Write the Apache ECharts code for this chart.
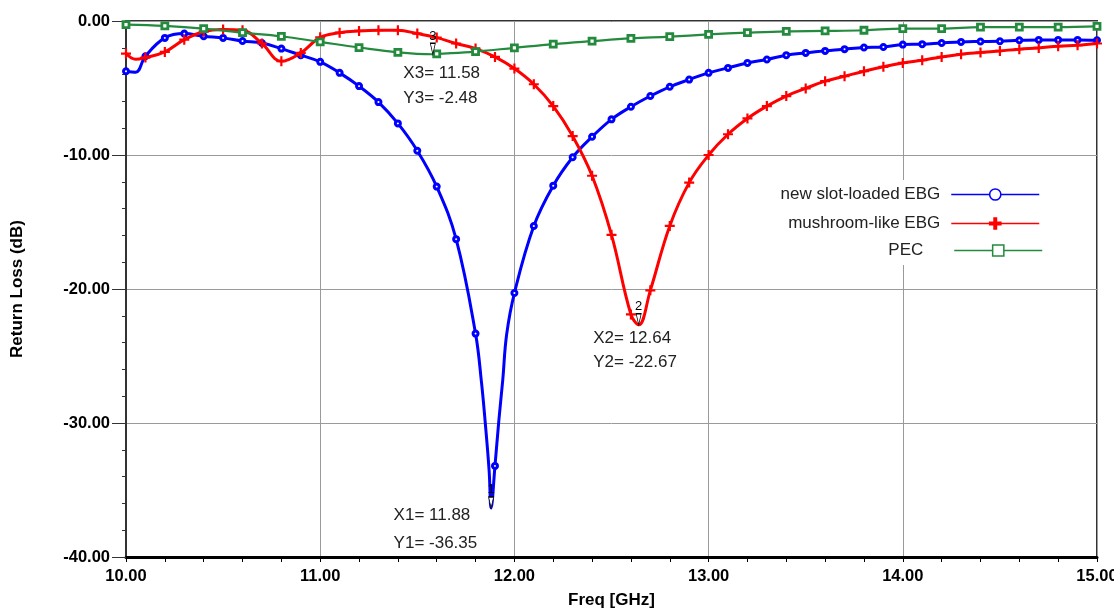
<!DOCTYPE html>
<html>
<head>
<meta charset="utf-8">
<script src="https://cdn.jsdelivr.net/npm/echarts@6/dist/echarts.min.js"></script>
<style>
  html, body { margin: 0; padding: 0; background: #fff; }
  #chart { width: 1114px; height: 610px; }
</style>
</head>
<body>
<div id="chart"></div>
<script>
// Return loss of the antenna over three ground planes, 10–15 GHz.
const seriesNames = ['new slot-loaded EBG', 'mushroom-like EBG', 'PEC'];

// Marked samples, every 0.1 GHz (slot-loaded EBG)
const slotFreq = [10.0, 10.1, 10.2, 10.3, 10.4, 10.5, 10.6, 10.7, 10.8, 10.9,
  11.0, 11.1, 11.2, 11.3, 11.4, 11.5, 11.6, 11.7, 11.8, 11.9,
  12.0, 12.1, 12.2, 12.3, 12.4, 12.5, 12.6, 12.7, 12.8, 12.9,
  13.0, 13.1, 13.2, 13.3, 13.4, 13.5, 13.6, 13.7, 13.8, 13.9,
  14.0, 14.1, 14.2, 14.3, 14.4, 14.5, 14.6, 14.7, 14.8, 14.9, 15.0];
const slotLoss = [-3.75, -2.63, -1.26, -0.94, -1.14, -1.26, -1.49, -1.64, -2.06, -2.55,
  -3.05, -3.87, -4.86, -6.05, -7.64, -9.68, -12.36, -16.28, -23.33, -33.2,
  -20.3, -15.3, -12.29, -10.17, -8.64, -7.34, -6.4, -5.6, -4.91, -4.37,
  -3.87, -3.5, -3.13, -2.87, -2.55, -2.38, -2.23, -2.1, -1.98, -1.94,
  -1.76, -1.73, -1.64, -1.56, -1.53, -1.51, -1.44, -1.41, -1.41, -1.41, -1.44];
// Unmarked samples (resonance detail)
const slotFineFreq = [10.05, 11.83, 11.85, 11.87, 11.88, 11.92, 11.94, 11.96];
const slotFineLoss = [-3.82, -26.9, -30.0, -33.6, -36.35, -29.8, -26.8, -23.4];

// Marked samples, every 0.1 GHz (mushroom-like EBG)
const mushFreq = slotFreq.slice();
const mushLoss = [-2.43, -2.73, -2.31, -1.39, -0.8, -0.64, -0.69, -1.68, -3.0, -2.38,
  -1.22, -0.87, -0.74, -0.69, -0.69, -0.94, -1.24, -1.68, -2.06, -2.68,
  -3.55, -4.72, -6.35, -8.59, -11.55, -15.96, -21.9, -20.1, -15.29, -12.06,
  -10.0, -8.45, -7.27, -6.35, -5.6, -5.03, -4.49, -4.12, -3.75, -3.42,
  -3.13, -2.93, -2.68, -2.48, -2.35, -2.23, -2.1, -2.01, -1.88, -1.81, -1.68];
const mushFineFreq = [10.05, 12.64];
const mushFineLoss = [-2.86, -22.67];

// Marked samples, every 0.2 GHz (PEC)
const pecFreq = [10.0, 10.2, 10.4, 10.6, 10.8, 11.0, 11.2, 11.4, 11.6, 11.8,
  12.0, 12.2, 12.4, 12.6, 12.8, 13.0, 13.2, 13.4, 13.6, 13.8,
  14.0, 14.2, 14.4, 14.6, 14.8, 15.0];
const pecLoss = [-0.27, -0.37, -0.57, -0.87, -1.14, -1.56, -1.98, -2.34, -2.46, -2.28,
  -2.0, -1.72, -1.5, -1.3, -1.17, -1.0, -0.87, -0.77, -0.74, -0.69,
  -0.57, -0.57, -0.45, -0.45, -0.45, -0.4];
const pecFineFreq = [11.58];
const pecFineLoss = [-2.48];

// Readout markers
const markerIds = ['1', '2', '3'];
const markerSeries = [0, 1, 2];
const markerFreq = [11.88, 12.64, 11.58];
const markerLoss = [-36.35, -22.67, -2.48];

// Axis ticks
const freqTicks = { min: 10, max: 15, step: 1 };
const lossTicks = { min: -40, max: 0, step: 10 };

const FONT = "'Liberation Sans', Arial, Helvetica, sans-serif";
const colors = ['#0000ff', '#ff0000', '#238a3e'];
const lineWidths = [3, 3, 2.2];
const plusPath = 'path://M3.9,0H6.1V3.9H10V6.1H6.1V10H3.9V6.1H0V3.9H3.9Z';
const symbols = ['circle', plusPath, 'rect'];
const symbolSizes = [5, 10, 6];
const symbolBorders = [3, 0, 2.8];

// readout text placement relative to the marker tip
const readoutOffset = [[-97, -6], [-45, 2], [-29, 7]];
const readoutLineHeight = [28, 24, 25];

// legend placement
const legendTop = [180, 209, 236];
const legendRight = [70, 70, 67];
const legendTextGap = [6, 6, 26];

function buildData(freq, loss, fineFreq, fineLoss) {
  const pts = freq.map((f, i) => ({ value: [f, loss[i]] }));
  fineFreq.forEach((f, i) => pts.push({ value: [f, fineLoss[i]], symbol: 'none' }));
  pts.sort((a, b) => a.value[0] - b.value[0]);
  return pts;
}

const dataSets = [
  buildData(slotFreq, slotLoss, slotFineFreq, slotFineLoss),
  buildData(mushFreq, mushLoss, mushFineFreq, mushFineLoss),
  buildData(pecFreq, pecLoss, pecFineFreq, pecFineLoss)
];

function markPointFor(seriesIdx) {
  const data = [];
  markerIds.forEach((id, k) => {
    if (markerSeries[k] !== seriesIdx) return;
    const coord = [markerFreq[k], markerLoss[k]];
    data.push({
      coord,
      symbol: 'path://M0,0L5,0L2.5,11Z',
      symbolSize: [5, 11],
      symbolOffset: [0, '-50%'],
      itemStyle: { color: '#fff', borderColor: '#000', borderWidth: 1 },
      label: {
        show: true, position: 'top', distance: 0, formatter: id,
        fontFamily: FONT, fontSize: 13, color: '#000'
      }
    });
    data.push({
      coord,
      symbol: 'circle',
      symbolSize: 1,
      itemStyle: { color: 'rgba(0,0,0,0)', borderWidth: 0 },
      label: {
        show: true,
        position: readoutOffset[k],
        align: 'left',
        verticalAlign: 'top',
        lineHeight: readoutLineHeight[k],
        fontFamily: FONT, fontSize: 17, color: '#222',
        formatter: 'X' + id + '= ' + markerFreq[k].toFixed(2) + '\nY' + id + '= ' + markerLoss[k].toFixed(2)
      }
    });
  });
  return { silent: true, animation: false, data };
}

const series = seriesNames.map((name, i) => ({
  name,
  type: 'line',
  data: dataSets[i],
  smooth: 0.4,
  symbol: symbols[i],
  symbolSize: symbolSizes[i],
  showSymbol: true,
  color: colors[i],
  lineStyle: { color: colors[i], width: lineWidths[i] },
  itemStyle: {
    color: i === 1 ? colors[i] : '#fff',
    borderColor: colors[i],
    borderWidth: symbolBorders[i]
  },
  z: 2 + i,
  markPoint: markPointFor(i)
}));

const legends = seriesNames.map((name, i) => ({
  data: [name],
  orient: 'horizontal',
  align: 'right',
  right: legendRight[i],
  top: legendTop[i],
  itemWidth: 88,
  itemHeight: 14,
  padding: [6, 4, 6, 4],
  backgroundColor: '#fff',
  selectedMode: false,
  lineStyle: { width: 1.5 },
  itemStyle: { borderWidth: 1.5 },
  textStyle: { fontFamily: FONT, fontSize: 17, color: '#222', padding: [0, legendTextGap[i], 0, 0] }
}));

const chart = echarts.init(document.getElementById('chart'), null, { renderer: 'canvas' });
chart.setOption({
  animation: false,
  backgroundColor: '#fff',
  grid: {
    left: 126, right: 17, top: 21, bottom: 53,
    outerBoundsMode: 'none',
    containLabel: false,
    show: true, borderColor: '#333', borderWidth: 2, backgroundColor: 'transparent'
  },
  legend: legends,
  xAxis: {
    type: 'value',
    min: freqTicks.min, max: freqTicks.max, interval: freqTicks.step,
    name: 'Freq [GHz]', nameLocation: 'middle', nameGap: 35,
    nameTextStyle: { fontFamily: FONT, fontSize: 17, fontWeight: 'bold', color: '#000' },
    axisLine: { show: true, onZero: false, lineStyle: { color: '#000', width: 3 } },
    axisTick: { show: true, length: 5, lineStyle: { color: '#000', width: 1 } },
    minorTick: { show: true, splitNumber: 5, length: 5, lineStyle: { color: '#000', width: 1 } },
    axisLabel: {
      margin: 11, fontFamily: FONT, fontSize: 16.5, fontWeight: 'bold', color: '#000',
      formatter: v => v.toFixed(2)
    },
    splitLine: { show: true, lineStyle: { color: '#9a9a9a', width: 1 } }
  },
  yAxis: {
    type: 'value',
    min: lossTicks.min, max: lossTicks.max, interval: lossTicks.step,
    name: 'Return Loss (dB)', nameLocation: 'middle', nameGap: 100,
    nameTextStyle: { fontFamily: FONT, fontSize: 17, fontWeight: 'bold', color: '#000' },
    axisLine: { show: true, onZero: false, lineStyle: { color: '#333', width: 2 } },
    axisTick: { show: true, length: 14, lineStyle: { color: '#333', width: 1 } },
    minorTick: { show: true, splitNumber: 5, length: 4, lineStyle: { color: '#333', width: 1 } },
    axisLabel: {
      margin: 16, fontFamily: FONT, fontSize: 16.5, fontWeight: 'bold', color: '#000',
      formatter: v => v.toFixed(2)
    },
    splitLine: { show: true, lineStyle: { color: '#9a9a9a', width: 1 } }
  },
  series
});
</script>
</body>
</html>
